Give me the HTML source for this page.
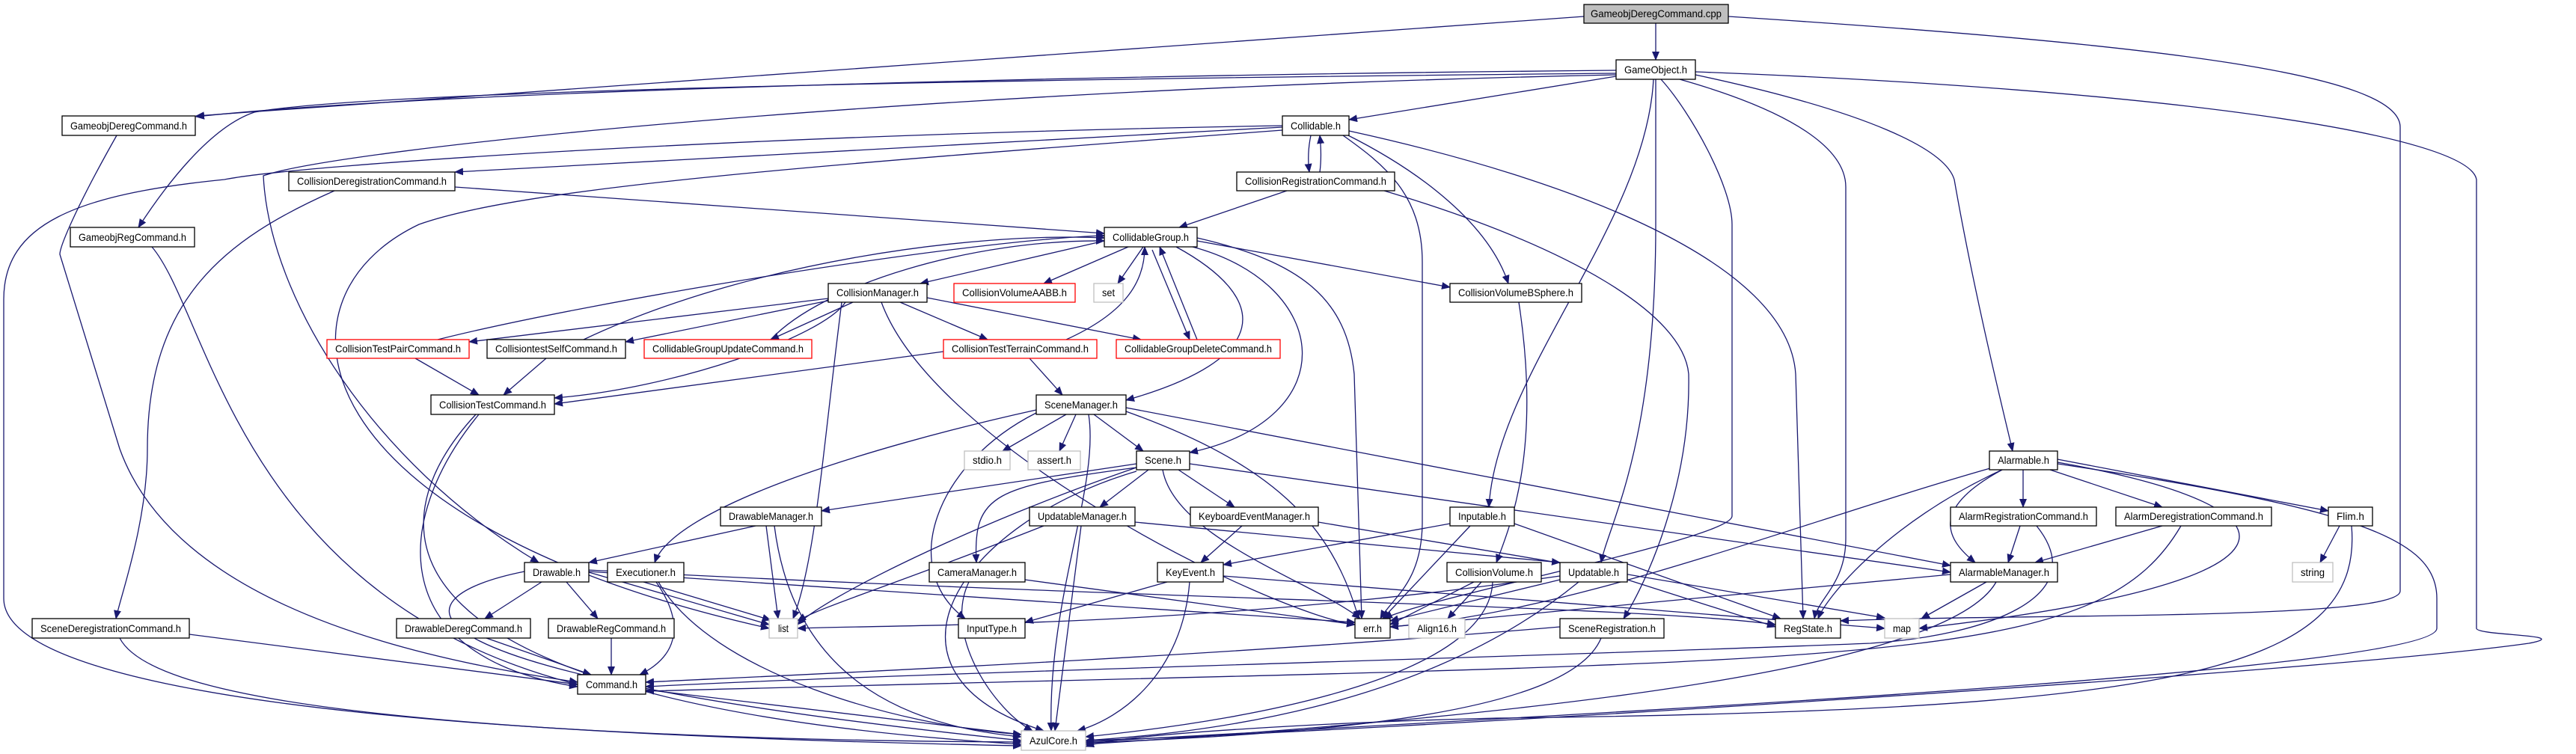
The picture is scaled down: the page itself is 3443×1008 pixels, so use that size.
<!DOCTYPE html>
<html><head><meta charset="utf-8"><style>
html,body{margin:0;padding:0;background:#fff;}
svg{display:block;}
text{font-family:"Liberation Sans",sans-serif;font-size:14px;fill:#000;}
</style></head><body>
<svg width="3443" height="1008" viewBox="0 0 3443 1008" xmlns="http://www.w3.org/2000/svg">
<defs>
<marker id="a" markerUnits="userSpaceOnUse" markerWidth="12" markerHeight="10" refX="11" refY="5" orient="auto">
<path d="M0,0 L12,5 L0,10 z" fill="#191970"/>
</marker>
</defs>
<g fill="none" stroke="#191970" stroke-width="1.3" marker-end="url(#a)">
<path d="M2117,22 L262,155"/>
<path d="M2213,31 L2213,80"/>
<path d="M2310,22 C2900,60 3208,100 3208,170 L3208,790 C3208,830 2700,820 2460,830"/>
<path d="M2160,94 C1500,100 600,120 262,156"/>
<path d="M2160,98 C1400,105 500,120 340,150 C280,170 220,250 185,304"/>
<path d="M2160,102 L1803,160"/>
<path d="M2160,100 C1200,120 450,200 352,235 C360,400 500,620 720,752"/>
<path d="M2210,106 C2200,300 2000,500 1990,678"/>
<path d="M2213,106 L2213,300 C2213,600 2150,700 2140,752"/>
<path d="M2220,106 C2260,150 2315,250 2315,300 L2315,690 C2315,720 1900,800 1850,827"/>
<path d="M2245,106 C2400,150 2467,200 2467,250 L2467,720 C2467,780 2430,800 2425,827"/>
<path d="M2266,100 C2500,150 2600,200 2612,240 C2640,400 2680,560 2690,603"/>
<path d="M2266,96 C2900,120 3300,180 3310,240 L3310,840 C3310,850 3443,848 3380,860 C3100,900 1800,980 1451,990"/>
<path d="M1714,170 L608,230"/>
<path d="M1752,181 C1748,200 1748,215 1750,230"/>
<path d="M1764,230 C1766,215 1766,200 1764,181"/>
<path d="M1714,168 C1000,180 400,220 300,240 C100,260 5,300 5,400 L5,800 C5,950 800,990 1365,992"/>
<path d="M1714,174 C1100,220 700,250 560,300 C350,400 400,700 1028,840"/>
<path d="M1795,181 C1850,220 1901,260 1901,350 L1901,700 C1900,780 1860,800 1845,827"/>
<path d="M1800,180 C1900,230 1990,300 2016,379"/>
<path d="M1803,175 C2100,240 2390,350 2400,500 L2410,827"/>
<path d="M1720,255 L1576,304"/>
<path d="M1850,255 C2100,330 2250,420 2257,500 C2260,650 2200,780 2170,827"/>
<path d="M608,250 L1476,312"/>
<path d="M447,255 C300,320 197,400 197,600 C197,700 160,800 155,827"/>
<path d="M156,181 C100,280 80,330 80,340 L160,600 C250,850 700,900 772,912"/>
<path d="M203,330 C280,420 320,800 772,915"/>
<path d="M1476,322 L1230,379"/>
<path d="M1508,330 L1395,379"/>
<path d="M1528,330 L1494,379"/>
<path d="M1540,334 L1590,454"/>
<path d="M1600,454 L1550,330"/>
<path d="M1600,322 L1938,384"/>
<path d="M1572,330 C1700,400 1700,480 1505,535"/>
<path d="M1594,330 C1780,380 1800,560 1590,605"/>
<path d="M1600,318 C1740,350 1800,400 1810,500 L1820,827"/>
<path d="M1107,399 L627,457"/>
<path d="M1107,402 L836,457"/>
<path d="M1140,404 L1030,454"/>
<path d="M1203,404 L1320,454"/>
<path d="M1239,398 L1525,454"/>
<path d="M1130,404 C1100,450 900,520 741,532"/>
<path d="M1261,470 L741,540"/>
<path d="M1125,404 C1100,600 1090,750 1060,827"/>
<path d="M1178,404 C1250,600 1700,820 1811,835"/>
<path d="M585,454 C800,400 1300,320 1476,315"/>
<path d="M555,479 L640,528"/>
<path d="M780,454 C1000,350 1300,310 1476,318"/>
<path d="M730,479 L673,528"/>
<path d="M1030,454 C1100,380 1300,320 1476,322"/>
<path d="M1425,454 C1500,420 1530,380 1530,330"/>
<path d="M1376,479 L1420,528"/>
<path d="M640,554 C520,700 520,880 772,918"/>
<path d="M636,554 C500,700 480,940 1365,995"/>
<path d="M1425,554 L1340,603"/>
<path d="M1438,554 L1416,603"/>
<path d="M1462,554 L1528,603"/>
<path d="M1385,548 C1150,600 900,680 875,752"/>
<path d="M1455,554 C1470,650 1400,800 1405,977"/>
<path d="M1505,550 C1700,620 1780,700 1816,827"/>
<path d="M1385,552 C1250,620 1200,760 1290,827"/>
<path d="M1505,545 L2607,756"/>
<path d="M1519,620 L1098,683"/>
<path d="M1535,628 L1470,678"/>
<path d="M1575,628 L1650,678"/>
<path d="M1519,625 C1330,650 1300,660 1305,752"/>
<path d="M1554,628 C1570,720 1760,780 1818,827"/>
<path d="M1519,630 C1280,700 1150,900 1395,977"/>
<path d="M1590,620 L2607,765"/>
<path d="M1519,625 C1300,700 1100,800 1066,835"/>
<path d="M1010,703 L787,752"/>
<path d="M1024,703 L1040,827"/>
<path d="M1035,703 C1060,900 1200,970 1365,985"/>
<path d="M1517,698 L2085,752"/>
<path d="M1395,703 C1200,780 1100,810 1066,830"/>
<path d="M1445,703 L1410,977"/>
<path d="M1660,703 L1605,752"/>
<path d="M1762,698 L2519,826"/>
<path d="M1938,700 L1635,755"/>
<path d="M1965,703 L1848,827"/>
<path d="M2024,700 L2380,827"/>
<path d="M1370,775 L1811,835"/>
<path d="M1295,778 C1260,850 1330,950 1380,977"/>
<path d="M1560,778 L1370,832"/>
<path d="M1590,778 C1580,900 1500,960 1440,977"/>
<path d="M1635,770 L2519,840"/>
<path d="M1970,778 L1858,835"/>
<path d="M1980,778 L1935,827"/>
<path d="M1995,778 C1990,900 1700,960 1451,985"/>
<path d="M2030,404 C2060,600 2020,700 2000,752"/>
<path d="M2085,775 L1858,830"/>
<path d="M2085,770 C1600,840 1200,835 1066,840"/>
<path d="M2175,775 L2373,838"/>
<path d="M2110,778 C1900,950 1600,980 1451,990"/>
<path d="M2085,838 C1600,880 1000,905 863,912"/>
<path d="M2140,853 C2100,950 1800,980 1451,993"/>
<path d="M724,778 L648,827"/>
<path d="M757,778 L799,827"/>
<path d="M787,765 L1028,835"/>
<path d="M787,764 L1811,832"/>
<path d="M787,762 C1500,800 2200,810 2373,835"/>
<path d="M701,764 C520,800 500,900 1365,990"/>
<path d="M860,778 L1030,829"/>
<path d="M877,778 C920,840 900,880 855,902"/>
<path d="M880,778 C950,900 1200,970 1365,982"/>
<path d="M650,853 L790,902"/>
<path d="M817,853 L817,902"/>
<path d="M253,848 L772,915"/>
<path d="M160,853 C200,930 500,980 1365,997"/>
<path d="M863,922 L1365,982"/>
<path d="M2704,628 L2704,678"/>
<path d="M2740,628 L2890,678"/>
<path d="M2750,614 L3112,683"/>
<path d="M2676,628 C2580,680 2600,720 2640,752"/>
<path d="M2676,628 C2520,700 2440,800 2430,827"/>
<path d="M2660,626 C2400,700 2100,820 1858,838"/>
<path d="M2750,618 C3100,680 3100,780 2565,840"/>
<path d="M2750,620 C3150,680 3257,720 3257,800 L3257,840 C3257,900 2000,960 1451,992"/>
<path d="M2700,703 L2684,752"/>
<path d="M2722,703 C2800,800 2650,850 2500,860 C2000,880 1200,900 863,918"/>
<path d="M2890,703 L2720,752"/>
<path d="M2915,703 C2800,900 2500,880 863,924"/>
<path d="M2655,778 L2568,827"/>
<path d="M2668,778 C2600,900 2000,960 1451,995"/>
<path d="M2607,768 L1858,838"/>
<path d="M3127,703 L3101,752"/>
<path d="M3143,703 C3160,900 2900,950 2000,960 C1800,965 1500,980 1451,998"/>
</g>
<g stroke-width="1.3">
<!-- nodes: rect x,y,w,h ; text -->
<rect x="2117" y="6" width="193" height="25" fill="#bfbfbf" stroke="#000"/><text x="2213.5" y="23" text-anchor="middle" textLength="175" lengthAdjust="spacingAndGlyphs">GameobjDeregCommand.cpp</text>
<rect x="2160" y="80" width="106" height="26" fill="#fff" stroke="#000"/><text x="2213" y="98" text-anchor="middle" textLength="84" lengthAdjust="spacingAndGlyphs">GameObject.h</text>
<rect x="83" y="155" width="178" height="26" fill="#fff" stroke="#000"/><text x="172" y="173" text-anchor="middle" textLength="156" lengthAdjust="spacingAndGlyphs">GameobjDeregCommand.h</text>
<rect x="1714" y="155" width="89" height="26" fill="#fff" stroke="#000"/><text x="1758.5" y="173" text-anchor="middle" textLength="67" lengthAdjust="spacingAndGlyphs">Collidable.h</text>
<rect x="386" y="230" width="222" height="25" fill="#fff" stroke="#000"/><text x="497" y="247" text-anchor="middle" textLength="200" lengthAdjust="spacingAndGlyphs">CollisionDeregistrationCommand.h</text>
<rect x="1653" y="230" width="211" height="25" fill="#fff" stroke="#000"/><text x="1758.5" y="247" text-anchor="middle" textLength="189" lengthAdjust="spacingAndGlyphs">CollisionRegistrationCommand.h</text>
<rect x="94" y="304" width="166" height="26" fill="#fff" stroke="#000"/><text x="177" y="322" text-anchor="middle" textLength="144" lengthAdjust="spacingAndGlyphs">GameobjRegCommand.h</text>
<rect x="1476" y="304" width="124" height="26" fill="#fff" stroke="#000"/><text x="1538" y="322" text-anchor="middle" textLength="102" lengthAdjust="spacingAndGlyphs">CollidableGroup.h</text>
<rect x="1107" y="379" width="132" height="25" fill="#fff" stroke="#000"/><text x="1173" y="396" text-anchor="middle" textLength="110" lengthAdjust="spacingAndGlyphs">CollisionManager.h</text>
<rect x="1275" y="379" width="162" height="25" fill="#fff" stroke="#f00"/><text x="1356" y="396" text-anchor="middle" textLength="140" lengthAdjust="spacingAndGlyphs">CollisionVolumeAABB.h</text>
<rect x="1462" y="379" width="39" height="25" fill="#fff" stroke="#bfbfbf"/><text x="1481.5" y="396" text-anchor="middle" textLength="17" lengthAdjust="spacingAndGlyphs">set</text>
<rect x="1938" y="379" width="176" height="25" fill="#fff" stroke="#000"/><text x="2026" y="396" text-anchor="middle" textLength="154" lengthAdjust="spacingAndGlyphs">CollisionVolumeBSphere.h</text>
<rect x="437" y="454" width="190" height="25" fill="#fff" stroke="#f00"/><text x="532" y="471" text-anchor="middle" textLength="168" lengthAdjust="spacingAndGlyphs">CollisionTestPairCommand.h</text>
<rect x="651" y="454" width="185" height="25" fill="#fff" stroke="#000"/><text x="743.5" y="471" text-anchor="middle" textLength="163" lengthAdjust="spacingAndGlyphs">CollisiontestSelfCommand.h</text>
<rect x="861" y="454" width="224" height="25" fill="#fff" stroke="#f00"/><text x="973" y="471" text-anchor="middle" textLength="202" lengthAdjust="spacingAndGlyphs">CollidableGroupUpdateCommand.h</text>
<rect x="1261" y="454" width="205" height="25" fill="#fff" stroke="#f00"/><text x="1363.5" y="471" text-anchor="middle" textLength="183" lengthAdjust="spacingAndGlyphs">CollisionTestTerrainCommand.h</text>
<rect x="1492" y="454" width="219" height="25" fill="#fff" stroke="#f00"/><text x="1601.5" y="471" text-anchor="middle" textLength="197" lengthAdjust="spacingAndGlyphs">CollidableGroupDeleteCommand.h</text>
<rect x="576" y="528" width="165" height="26" fill="#fff" stroke="#000"/><text x="658.5" y="546" text-anchor="middle" textLength="143" lengthAdjust="spacingAndGlyphs">CollisionTestCommand.h</text>
<rect x="1385" y="528" width="120" height="26" fill="#fff" stroke="#000"/><text x="1445" y="546" text-anchor="middle" textLength="98" lengthAdjust="spacingAndGlyphs">SceneManager.h</text>
<rect x="1289" y="603" width="61" height="25" fill="#fff" stroke="#bfbfbf"/><text x="1319.5" y="620" text-anchor="middle" textLength="39" lengthAdjust="spacingAndGlyphs">stdio.h</text>
<rect x="1374" y="603" width="70" height="25" fill="#fff" stroke="#bfbfbf"/><text x="1409" y="620" text-anchor="middle" textLength="46" lengthAdjust="spacingAndGlyphs">assert.h</text>
<rect x="1519" y="603" width="71" height="25" fill="#fff" stroke="#000"/><text x="1554.5" y="620" text-anchor="middle" textLength="49" lengthAdjust="spacingAndGlyphs">Scene.h</text>
<rect x="2659" y="603" width="91" height="25" fill="#fff" stroke="#000"/><text x="2704.5" y="620" text-anchor="middle" textLength="69" lengthAdjust="spacingAndGlyphs">Alarmable.h</text>
<rect x="963" y="678" width="135" height="25" fill="#fff" stroke="#000"/><text x="1030.5" y="695" text-anchor="middle" textLength="113" lengthAdjust="spacingAndGlyphs">DrawableManager.h</text>
<rect x="1376" y="678" width="141" height="25" fill="#fff" stroke="#000"/><text x="1446.5" y="695" text-anchor="middle" textLength="119" lengthAdjust="spacingAndGlyphs">UpdatableManager.h</text>
<rect x="1591" y="678" width="171" height="25" fill="#fff" stroke="#000"/><text x="1676.5" y="695" text-anchor="middle" textLength="149" lengthAdjust="spacingAndGlyphs">KeyboardEventManager.h</text>
<rect x="1938" y="678" width="86" height="25" fill="#fff" stroke="#000"/><text x="1981" y="695" text-anchor="middle" textLength="64" lengthAdjust="spacingAndGlyphs">Inputable.h</text>
<rect x="2607" y="678" width="195" height="25" fill="#fff" stroke="#000"/><text x="2704.5" y="695" text-anchor="middle" textLength="173" lengthAdjust="spacingAndGlyphs">AlarmRegistrationCommand.h</text>
<rect x="2828" y="678" width="208" height="25" fill="#fff" stroke="#000"/><text x="2932" y="695" text-anchor="middle" textLength="186" lengthAdjust="spacingAndGlyphs">AlarmDeregistrationCommand.h</text>
<rect x="3112" y="678" width="59" height="25" fill="#fff" stroke="#000"/><text x="3141.5" y="695" text-anchor="middle" textLength="37" lengthAdjust="spacingAndGlyphs">Flim.h</text>
<rect x="701" y="752" width="86" height="26" fill="#fff" stroke="#000"/><text x="744" y="770" text-anchor="middle" textLength="64" lengthAdjust="spacingAndGlyphs">Drawable.h</text>
<rect x="812" y="752" width="102" height="26" fill="#fff" stroke="#000"/><text x="863" y="770" text-anchor="middle" textLength="80" lengthAdjust="spacingAndGlyphs">Executioner.h</text>
<rect x="1242" y="752" width="128" height="26" fill="#fff" stroke="#000"/><text x="1306" y="770" text-anchor="middle" textLength="106" lengthAdjust="spacingAndGlyphs">CameraManager.h</text>
<rect x="1547" y="752" width="88" height="26" fill="#fff" stroke="#000"/><text x="1591" y="770" text-anchor="middle" textLength="66" lengthAdjust="spacingAndGlyphs">KeyEvent.h</text>
<rect x="1934" y="752" width="126" height="26" fill="#fff" stroke="#000"/><text x="1997" y="770" text-anchor="middle" textLength="104" lengthAdjust="spacingAndGlyphs">CollisionVolume.h</text>
<rect x="2085" y="752" width="90" height="26" fill="#fff" stroke="#000"/><text x="2130" y="770" text-anchor="middle" textLength="68" lengthAdjust="spacingAndGlyphs">Updatable.h</text>
<rect x="2607" y="752" width="143" height="26" fill="#fff" stroke="#000"/><text x="2678.5" y="770" text-anchor="middle" textLength="121" lengthAdjust="spacingAndGlyphs">AlarmableManager.h</text>
<rect x="3064" y="752" width="54" height="26" fill="#fff" stroke="#bfbfbf"/><text x="3091" y="770" text-anchor="middle" textLength="32" lengthAdjust="spacingAndGlyphs">string</text>
<rect x="43" y="827" width="210" height="26" fill="#fff" stroke="#000"/><text x="148" y="845" text-anchor="middle" textLength="188" lengthAdjust="spacingAndGlyphs">SceneDeregistrationCommand.h</text>
<rect x="530" y="827" width="179" height="26" fill="#fff" stroke="#000"/><text x="619.5" y="845" text-anchor="middle" textLength="157" lengthAdjust="spacingAndGlyphs">DrawableDeregCommand.h</text>
<rect x="733" y="827" width="168" height="26" fill="#fff" stroke="#000"/><text x="817" y="845" text-anchor="middle" textLength="146" lengthAdjust="spacingAndGlyphs">DrawableRegCommand.h</text>
<rect x="1028" y="827" width="38" height="26" fill="#fff" stroke="#bfbfbf"/><text x="1047" y="845" text-anchor="middle" textLength="14" lengthAdjust="spacingAndGlyphs">list</text>
<rect x="1281" y="827" width="89" height="26" fill="#fff" stroke="#000"/><text x="1325.5" y="845" text-anchor="middle" textLength="67" lengthAdjust="spacingAndGlyphs">InputType.h</text>
<rect x="1811" y="827" width="47" height="26" fill="#fff" stroke="#000"/><text x="1834.5" y="845" text-anchor="middle" textLength="25" lengthAdjust="spacingAndGlyphs">err.h</text>
<rect x="1883" y="827" width="75" height="26" fill="#fff" stroke="#bfbfbf"/><text x="1920.5" y="845" text-anchor="middle" textLength="53" lengthAdjust="spacingAndGlyphs">Align16.h</text>
<rect x="2085" y="827" width="139" height="26" fill="#fff" stroke="#000"/><text x="2154.5" y="845" text-anchor="middle" textLength="117" lengthAdjust="spacingAndGlyphs">SceneRegistration.h</text>
<rect x="2373" y="827" width="87" height="26" fill="#fff" stroke="#000"/><text x="2416.5" y="845" text-anchor="middle" textLength="65" lengthAdjust="spacingAndGlyphs">RegState.h</text>
<rect x="2519" y="827" width="46" height="26" fill="#fff" stroke="#bfbfbf"/><text x="2542" y="845" text-anchor="middle" textLength="24" lengthAdjust="spacingAndGlyphs">map</text>
<rect x="772" y="902" width="91" height="26" fill="#fff" stroke="#000"/><text x="817.5" y="920" text-anchor="middle" textLength="69" lengthAdjust="spacingAndGlyphs">Command.h</text>
<rect x="1365" y="977" width="86" height="26" fill="#fff" stroke="#bfbfbf"/><text x="1408" y="995" text-anchor="middle" textLength="64" lengthAdjust="spacingAndGlyphs">AzulCore.h</text>
</g>
</svg>
</body></html>
